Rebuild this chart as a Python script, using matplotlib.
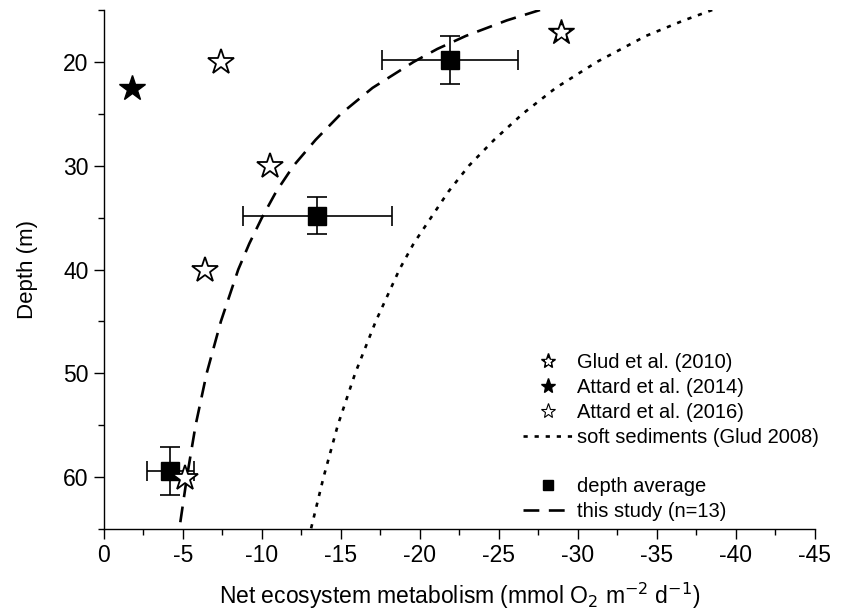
import numpy as np
import matplotlib
matplotlib.use("Agg")
import matplotlib.pyplot as plt
from matplotlib.lines import Line2D
from matplotlib.ticker import MultipleLocator

plt.rcParams['font.family'] = ['Liberation Sans', 'DejaVu Sans']

# depth averages (this study)
avg_nem = [-21.9, -13.5, -4.2]
avg_depth = [19.8, 34.8, 59.4]
avg_xerr = [4.3, 4.7, 1.5]
avg_yerr = [2.3, 1.8, 2.3]

# literature values
glud2010_nem = [-28.9]
glud2010_depth = [17.1]
attard2014_nem = [-1.8]
attard2014_depth = [22.5]
attard2016_nem = [-7.4, -10.5, -6.4, -5.1]
attard2016_depth = [20.0, 30.0, 40.0, 60.1]

# fitted curve, this study (n=13)
fit_depth = [15, 16, 17.5, 18.75, 20, 22.5, 25, 27.5, 30, 32.5, 35, 37.5, 40, 45, 50, 55, 60, 65]
fit_nem = [-27.6, -25.5, -22.9, -21.1, -19.6, -17.0, -15.0, -13.4, -12.0, -10.9, -10.0,
           -9.2, -8.5, -7.4, -6.5, -5.8, -5.25, -4.77]

# soft sediments (Glud 2008)
soft_depth = [15, 16, 17.5, 20, 22.5, 25, 27.5, 30, 32.5, 35, 37.5, 40, 45, 50, 55, 60, 65]
soft_nem = [-38.5, -36.7, -34.3, -31.2, -28.6, -26.5, -24.7, -23.1, -21.8, -20.7, -19.6,
            -18.7, -17.2, -15.9, -14.8, -13.9, -13.1]

fig = plt.figure(figsize=(8.48, 6.14), dpi=100)
ax = fig.add_axes([0.1226, 0.1384, 0.8384, 0.8453])

dot_style = (0, (1.6, 2.6))
dash_style = (0, (6, 3.6))

ax.plot(soft_nem, soft_depth, color='black', lw=1.9, linestyle=dot_style, zorder=2)
ax.plot(fit_nem, fit_depth, color='black', lw=1.9, linestyle=dash_style, zorder=2)

ax.errorbar(avg_nem, avg_depth, xerr=avg_xerr, yerr=avg_yerr, fmt='s', color='black',
            ms=13, elinewidth=1.2, capsize=7, capthick=1.2, zorder=3)

ax.plot(attard2014_nem, attard2014_depth, '*', color='black', ms=19, zorder=4)
ax.plot(attard2016_nem, attard2016_depth, '*', mfc='white', mec='black', mew=1.3, ms=19, zorder=4)
ax.plot(glud2010_nem, glud2010_depth, '*', color='black', ms=19, zorder=4)
ax.plot(glud2010_nem, glud2010_depth, '*', color='white', ms=10, zorder=5)

ax.set_xlim(0, -45)
ax.set_ylim(65, 15)
ax.xaxis.set_minor_locator(MultipleLocator(2.5))
ax.yaxis.set_minor_locator(MultipleLocator(5))
ax.set_yticks([20, 30, 40, 50, 60])
ax.set_xticks(range(0, -50, -5))
ax.set_xticklabels([str(v) for v in range(0, -50, -5)])

for side in ['top', 'right']:
    ax.spines[side].set_visible(False)
for side in ['left', 'bottom']:
    ax.spines[side].set_linewidth(1.0)
ax.tick_params(which='major', length=7, width=1.0, labelsize=16.5, pad=4)
ax.tick_params(which='minor', length=4, width=1.0)

ax.set_xlabel('Net ecosystem metabolism (mmol O$_2$ m$^{-2}$ d$^{-1}$)', fontsize=16.5, labelpad=10)
ax.set_ylabel('Depth (m)', fontsize=16, labelpad=18)

h_glud = (Line2D([], [], marker='*', color='black', ls='none', ms=11),
          Line2D([], [], marker='*', color='white', ls='none', ms=5))
h_a14 = Line2D([], [], marker='*', color='black', ls='none', ms=11)
h_a16 = Line2D([], [], marker='*', mfc='white', mec='black', mew=0.8, ls='none', ms=11)
h_soft = Line2D([], [], color='black', lw=1.9, linestyle=dot_style)
h_blank = Line2D([], [], ls='none')
h_avg = Line2D([], [], marker='s', color='black', ls='none', ms=7)
h_fit = Line2D([], [], color='black', lw=1.9, linestyle=dash_style)

ax.legend([h_glud, h_a14, h_a16, h_soft, h_blank, h_avg, h_fit],
          ['Glud et al. (2010)', 'Attard et al. (2014)', 'Attard et al. (2016)',
           'soft sediments (Glud 2008)', '', 'depth average', 'this study (n=13)'],
          loc='upper left', bbox_to_anchor=(0.589, 0.339), frameon=False,
          fontsize=14.5, handlelength=2.5, handletextpad=0.2, labelspacing=0.29,
          borderpad=0, borderaxespad=0)

fig.savefig('out.png', dpi=100)
